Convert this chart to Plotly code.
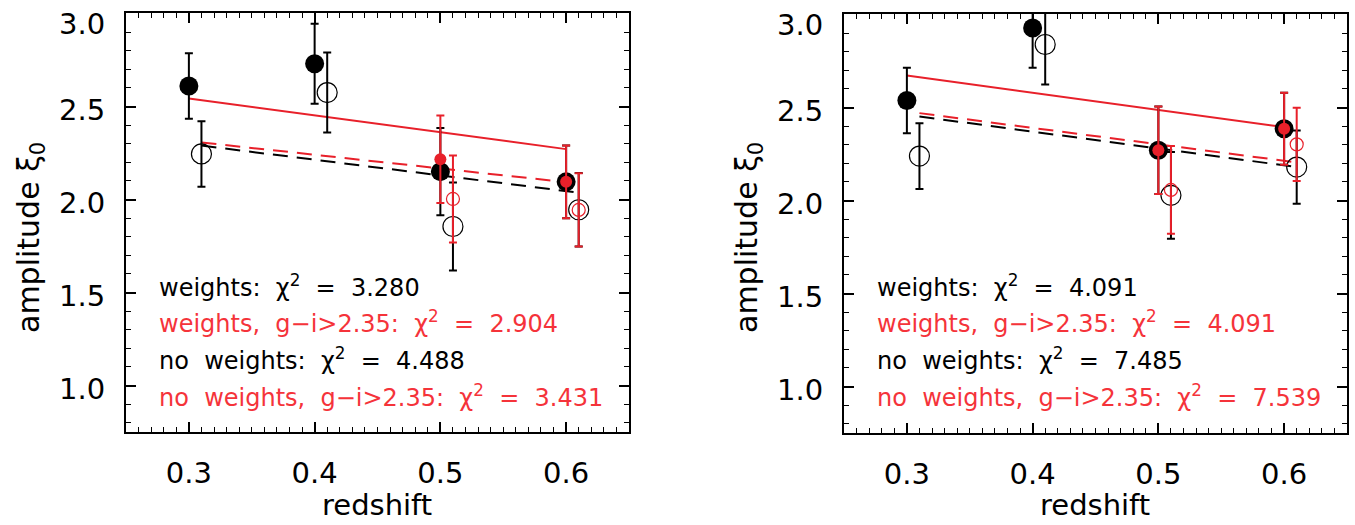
import plotly.graph_objects as go

# ---------------- data ----------------
z_filled = [0.3, 0.4, 0.5, 0.6]
z_open = [0.31, 0.41, 0.51, 0.61]
z_red_filled = [0.5, 0.6]
z_red_open = [0.51, 0.61]

# left panel
L_w_amp = [2.61, 2.73, 2.15, 2.095]
L_w_err = [0.176, 0.215, 0.235, 0.195]
L_nw_amp = [2.245, 2.575, 1.855, 1.945]
L_nw_err = [0.176, 0.215, 0.236, 0.197]
L_wr_amp = [2.217, 2.095]
L_wr_err = [0.235, 0.195]
L_nwr_amp = [2.003, 1.944]
L_nwr_err = [0.234, 0.197]
L_fit_x_solid = [0.3, 0.6]
L_fit_red_solid = [2.543, 2.271]
L_fit_x_dash = [0.31, 0.61]
L_fit_red_dash = [2.307, 2.086]
L_fit_black_dash = [2.290, 2.037]
L_chi = ["3.280", "2.904", "4.488", "3.431"]

# right panel
R_w_amp = [2.538, 2.928, 2.270, 2.386]
R_w_err = [0.176, 0.214, 0.235, 0.194]
R_nw_amp = [2.239, 2.839, 2.028, 2.180]
R_nw_err = [0.177, 0.215, 0.233, 0.197]
R_wr_amp = [2.270, 2.386]
R_wr_err = [0.235, 0.194]
R_nwr_amp = [2.057, 2.302]
R_nwr_err = [0.236, 0.197]
R_fit_x_solid = [0.3, 0.6]
R_fit_red_solid = [2.672, 2.395]
R_fit_x_dash = [0.31, 0.61]
R_fit_red_dash = [2.470, 2.205]
R_fit_black_dash = [2.452, 2.180]
R_chi = ["4.091", "4.091", "7.485", "7.539"]

labels = ["weights:", "weights, g\u2212i>2.35:", "no weights:", "no weights, g\u2212i>2.35:"]
y_tick_vals = [1.0, 1.5, 2.0, 2.5, 3.0]
y_tick_text = ["1.0", "1.5", "2.0", "2.5", "3.0"]

# ---------------- style ----------------
FONT = "DejaVu Sans"
BLACK = "#000000"
RED = "#e8202a"
TXT_RED = "#f5333a"
SP = "\u00a0\u00a0"  # wide spacing as in the reference's vector font

fig = go.Figure()


def add_panel(xa, ya, w_amp, w_err, nw_amp, nw_err, wr_amp, wr_err, nwr_amp, nwr_err,
              fx_s, fy_rs, fx_d, fy_rd, fy_bd):
    kw = dict(xaxis=xa, yaxis=ya, showlegend=False, hoverinfo="skip")
    # fit lines
    fig.add_trace(go.Scatter(x=fx_d, y=fy_bd, mode="lines",
                             line=dict(color=BLACK, width=2, dash="15px,9px"), **kw))
    fig.add_trace(go.Scatter(x=fx_d, y=fy_rd, mode="lines",
                             line=dict(color=RED, width=2, dash="15px,9px"), **kw))
    fig.add_trace(go.Scatter(x=fx_s, y=fy_rs, mode="lines",
                             line=dict(color=RED, width=2), **kw))
    # black points
    fig.add_trace(go.Scatter(x=z_filled, y=w_amp, mode="markers",
                             marker=dict(symbol="circle", size=19, color=BLACK),
                             error_y=dict(type="data", array=w_err, color=BLACK,
                                          thickness=2, width=4), **kw))
    fig.add_trace(go.Scatter(x=z_open, y=nw_amp, mode="markers",
                             marker=dict(symbol="circle-open", size=20, color=BLACK,
                                         line=dict(width=1.2, color=BLACK)),
                             error_y=dict(type="data", array=nw_err, color=BLACK,
                                          thickness=2, width=4), **kw))
    # red points
    fig.add_trace(go.Scatter(x=z_red_filled, y=wr_amp, mode="markers",
                             marker=dict(symbol="circle", size=12, color=RED),
                             error_y=dict(type="data", array=wr_err, color=RED,
                                          thickness=2, width=4), **kw))
    fig.add_trace(go.Scatter(x=z_red_open, y=nwr_amp, mode="markers",
                             marker=dict(symbol="circle-open", size=13, color=RED,
                                         line=dict(width=1.2, color=RED)),
                             error_y=dict(type="data", array=nwr_err, color=RED,
                                          thickness=2, width=4), **kw))


add_panel("x", "y", L_w_amp, L_w_err, L_nw_amp, L_nw_err, L_wr_amp, L_wr_err,
          L_nwr_amp, L_nwr_err, L_fit_x_solid, L_fit_red_solid, L_fit_x_dash,
          L_fit_red_dash, L_fit_black_dash)
add_panel("x2", "y2", R_w_amp, R_w_err, R_nw_amp, R_nw_err, R_wr_amp, R_wr_err,
          R_nwr_amp, R_nwr_err, R_fit_x_solid, R_fit_red_solid, R_fit_x_dash,
          R_fit_red_dash, R_fit_black_dash)

W, H = 1355, 525


def xaxis(domain, anchor):
    return dict(domain=domain, anchor=anchor, range=[0.25, 0.65], tick0=0, dtick=0.1,
                tickformat=".1f", ticks="inside", ticklen=10, tickwidth=1.5,
                tickcolor=BLACK, showline=True, linewidth=2, linecolor=BLACK,
                mirror="allticks", showgrid=False, zeroline=False,
                ticklabelstandoff=14, ticklabeloverflow="allow", automargin=False,
                tickfont=dict(family=FONT, size=29, color=BLACK),
                minor=dict(dtick=0.01, ticks="inside", ticklen=5, tickwidth=1.3,
                           tickcolor=BLACK, showgrid=False))


def yaxis(domain, anchor):
    return dict(domain=domain, anchor=anchor, range=[0.75, 3.003],
                tickvals=y_tick_vals, showticklabels=False,
                ticks="inside", ticklen=10, tickwidth=1.5,
                tickcolor=BLACK, showline=True, linewidth=2, linecolor=BLACK,
                mirror="allticks", showgrid=False, zeroline=False,
                automargin=False,
                minor=dict(dtick=0.1, tick0=0, ticks="inside", ticklen=5, tickwidth=1.3,
                           tickcolor=BLACK, showgrid=False))


annotations = []
text_rows_px = [286, 322, 359, 396]
for x0, chis in [(157, L_chi), (875, R_chi)]:
    for i, (lab, c) in enumerate(zip(labels, chis)):
        col = BLACK if i % 2 == 0 else TXT_RED
        lab_sp = lab.replace(" ", SP)
        annotations.append(dict(
            x=x0 / W, y=1 - text_rows_px[i] / H, xref="paper", yref="paper",
            xanchor="left", yanchor="middle", showarrow=False,
            text=f"{lab_sp}{SP}\u03c7<sup>2</sup>{SP}={SP}{c}",
            font=dict(family=FONT, size=24, color=col)))

# y tick labels (drawn as annotations so the top one stays inside the page)
for yref, xr in [("y", 107), ("y2", 825)]:
    for v, t in zip(y_tick_vals, y_tick_text):
        top = v == max(y_tick_vals)
        annotations.append(dict(
            x=xr / W, y=v, xref="paper", yref=yref,
            xanchor="right", yanchor="top" if top else "middle",
            yshift=9 if top else -3, showarrow=False, text=t,
            font=dict(family=FONT, size=29, color=BLACK)))

# axis titles
for xc, yc_x in [(377, 30), (1095, 748)]:
    annotations.append(dict(x=xc / W, y=1 - 505 / H, xref="paper", yref="paper",
                            xanchor="center", yanchor="middle", showarrow=False,
                            text="redshift",
                            font=dict(family=FONT, size=29, color=BLACK)))
    annotations.append(dict(x=yc_x / W, y=1 - 238 / H, xref="paper", yref="paper",
                            xanchor="center", yanchor="middle", showarrow=False,
                            textangle=-90, text="amplitude \u03be<sub>0</sub>",
                            font=dict(family=FONT, size=30, color=BLACK)))

fig.update_layout(
    width=W, height=H,
    margin=dict(l=0, r=0, t=0, b=0, autoexpand=False),
    paper_bgcolor="white", plot_bgcolor="white",
    xaxis=xaxis([126 / W, 629 / W], "y"),
    yaxis=yaxis([1 - 432 / H, 1 - 13 / H], "x"),
    xaxis2=xaxis([844 / W, 1347 / W], "y2"),
    yaxis2=yaxis([1 - 433 / H, 1 - 14 / H], "x2"),
    annotations=annotations,
    showlegend=False,
)

fig.write_html("out.html")
